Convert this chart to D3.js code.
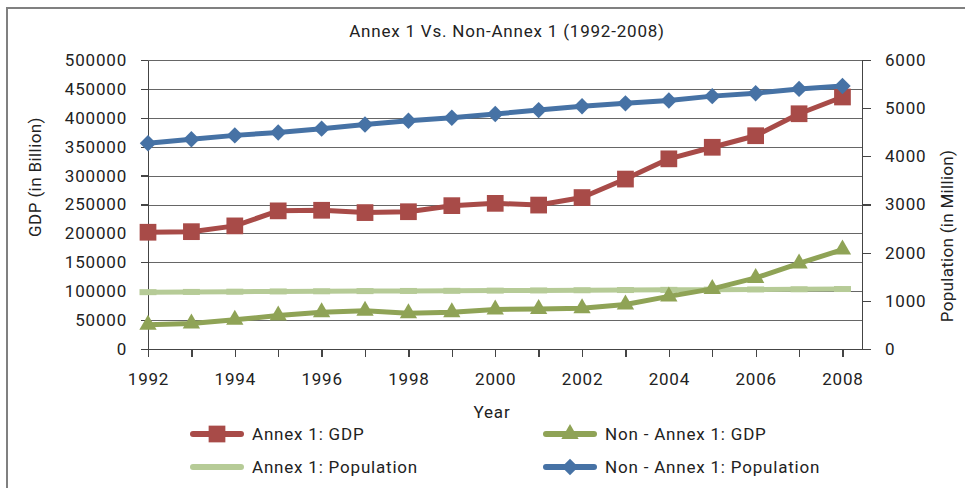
<!DOCTYPE html>
<html lang="en">
<head>
  <meta charset="UTF-8">
  <title>Annex 1 Vs. Non-Annex 1</title>
  <style>
    body { margin: 0; background: #ffffff; }
    svg text {
      font-family: Roboto, "Noto Sans", sans-serif;
      fill: #222222;
      letter-spacing: 0.8px;
    }
    .axis path, .axis line {
      fill: none;
      stroke: #444444;
      stroke-width: 1.3px;
      shape-rendering: crispEdges;
    }
    .grid line {
      stroke: #666666;
      stroke-width: 1.2px;
      shape-rendering: crispEdges;
    }
  </style>
</head>
<body>
<svg id="chart" width="965" height="488"></svg>

<script src="https://cdn.jsdelivr.net/npm/d3@7"></script>
<script>
  "use strict";

  var years = [1992,1993,1994,1995,1996,1997,1998,1999,2000,2001,2002,2003,2004,2005,2006,2007,2008];

  // GDP (in Billion) - left axis
  var annexGdp    = [202000,203000,213000,239000,240000,236000,237500,248000,252000,249000,262000,294000,329000,349000,369000,407000,436000];
  var nonAnnexGdp = [42000,44000,50500,58000,63500,66000,62000,63500,68500,69000,70500,77000,91000,104000,123000,148000,172000];

  // Population (in Million) - right axis
  var annexPop    = [1180,1185,1190,1195,1198,1202,1205,1208,1212,1216,1220,1224,1228,1232,1236,1240,1245];
  var nonAnnexPop = [4270,4355,4435,4495,4575,4660,4740,4800,4880,4960,5040,5100,5160,5250,5310,5400,5460];

  var gdpTicks = d3.range(0, 500001, 50000);
  var popTicks = d3.range(0, 6001, 1000);
  var yearLabels = [1992,1994,1996,1998,2000,2002,2004,2006,2008];

  var colRed = "#a84b48", colGreen = "#8fa356", colLight = "#b6cb97", colBlue = "#4672a5";

  var svg = d3.select("#chart");

  var plotL = 148, plotR = 862, plotT = 60, plotB = 349;

  var x = d3.scaleLinear().domain([1992, 2008.45]).range([plotL, plotR]);
  var yL = d3.scaleLinear().domain([0, 500000]).range([plotB, plotT]);
  var yR = d3.scaleLinear().domain([0, 6000]).range([plotB, plotT]);

  // outer frame
  svg.append("path")
    .attr("d", "M7,488 L7,8 L965,8")
    .attr("fill", "none")
    .attr("stroke", "#808080")
    .attr("stroke-width", 2);

  svg.append("text")
    .attr("x", 507).attr("y", 37)
    .attr("text-anchor", "middle")
    .style("font-size", "17px")
    .text("Annex 1 Vs. Non-Annex 1 (1992-2008)");

  // gridlines
  svg.append("g").attr("class", "grid")
    .selectAll("line")
    .data(gdpTicks.filter(function(d){ return d > 0; }))
    .enter().append("line")
    .attr("x1", plotL).attr("x2", plotR)
    .attr("y1", function(d){ return Math.round(yL(d)) + 0.5; })
    .attr("y2", function(d){ return Math.round(yL(d)) + 0.5; });

  // axes
  var gx = svg.append("g").attr("class", "axis")
    .attr("transform", "translate(0," + plotB + ")")
    .call(d3.axisBottom(x).tickValues(years).tickSize(8).tickSizeOuter(0)
      .tickFormat(function(d){ return yearLabels.indexOf(d) >= 0 ? d : ""; }));
  gx.selectAll("text").attr("y", 24);
  gx.select(".domain").attr("d", "M" + (plotL - 7) + ",0.5H" + plotR);

  var gl = svg.append("g").attr("class", "axis")
    .attr("transform", "translate(" + plotL + ",0)")
    .call(d3.axisLeft(yL).tickValues(gdpTicks).tickSize(7).tickSizeOuter(0).tickFormat(d3.format("d")));
  gl.selectAll("text").attr("x", -21);

  var gr = svg.append("g").attr("class", "axis")
    .attr("transform", "translate(" + plotR + ",0)")
    .call(d3.axisRight(yR).tickValues(popTicks).tickSize(9).tickSizeOuter(0).tickFormat(d3.format("d")));
  gr.selectAll("text").attr("x", 23);

  svg.selectAll(".axis .tick text")
    .style("font-size", "17px")
    .style("font-family", "Roboto, sans-serif")
    .attr("fill", "#222222");

  // axis titles
  svg.append("text")
    .attr("transform", "translate(41,177) rotate(-90)")
    .attr("text-anchor", "middle")
    .style("font-size", "17px")
    .style("letter-spacing", "0.4px")
    .text("GDP (in Billion)");

  svg.append("text")
    .attr("transform", "translate(953,236) rotate(-90)")
    .attr("text-anchor", "middle")
    .style("font-size", "17px")
    .style("letter-spacing", "0.3px")
    .text("Population (in Million)");

  svg.append("text")
    .attr("x", 492).attr("y", 418)
    .attr("text-anchor", "middle")
    .style("font-size", "17px")
    .text("Year");

  // markers
  var dashMarker = "M-8.5,-3H8.5V3H-8.5Z";
  var markers = {
    square: d3.symbol().type(d3.symbolSquare).size(280)(),
    triangle: d3.symbol().type(d3.symbolTriangle).size(130)(),
    diamond: d3.symbol().type(d3.symbolSquare).size(135)(),
    dash: dashMarker
  };

  // series
  var series = [
    { name: "Annex 1: Population", values: annexPop, y: yR, color: colLight, marker: "dash" },
    { name: "Non - Annex 1: GDP", values: nonAnnexGdp, y: yL, color: colGreen, marker: "triangle" },
    { name: "Annex 1: GDP", values: annexGdp, y: yL, color: colRed, marker: "square" },
    { name: "Non - Annex 1: Population", values: nonAnnexPop, y: yR, color: colBlue, marker: "diamond" }
  ];

  function rot(m) { return m === "diamond" ? " rotate(45)" : ""; }

  series.forEach(function(s) {
    var line = d3.line()
      .x(function(d, i){ return x(years[i]); })
      .y(function(d){ return s.y(d); });

    svg.append("path")
      .datum(s.values)
      .attr("d", line)
      .attr("fill", "none")
      .attr("stroke", s.color)
      .attr("stroke-width", 5)
      .attr("stroke-linejoin", "round");

    svg.append("g").selectAll("path")
      .data(s.values)
      .enter().append("path")
      .attr("transform", function(d, i){ return "translate(" + x(years[i]) + "," + s.y(d) + ")" + rot(s.marker); })
      .attr("d", markers[s.marker])
      .attr("fill", s.color);
  });

  // legend
  var legendOrder = [series[2], series[1], series[0], series[3]];
  var legend = svg.append("g");
  legendOrder.forEach(function(s, i) {
    var lx = i % 2 === 0 ? 193 : 546;
    var ly = i < 2 ? 434 : 467;
    var g = legend.append("g").attr("transform", "translate(" + lx + "," + ly + ")");
    g.append("line")
      .attr("x1", 0).attr("x2", 48)
      .attr("stroke", s.color)
      .attr("stroke-width", 6)
      .attr("stroke-linecap", "round");
    if (s.marker !== "dash") {
      g.append("path")
        .attr("transform", "translate(24,0)" + rot(s.marker))
        .attr("d", markers[s.marker])
        .attr("fill", s.color);
    }
    g.append("text")
      .attr("x", 59).attr("y", 6)
      .style("font-size", "17px")
      .text(s.name);
  });
</script>
</body>
</html>
